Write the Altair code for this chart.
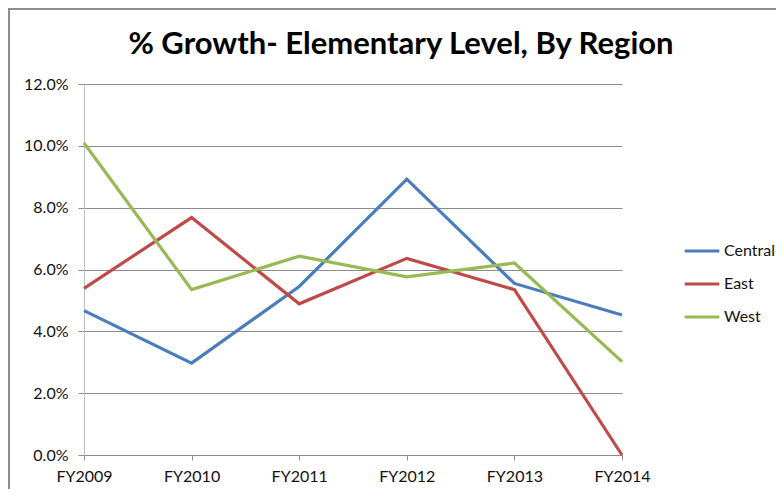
import altair as alt
import pandas as pd

years = ["FY2009", "FY2010", "FY2011", "FY2012", "FY2013", "FY2014"]
regions = ["Central", "East", "West"]
central = [0.0467, 0.0297, 0.0545, 0.0892, 0.0555, 0.0453]
east = [0.0539, 0.0768, 0.0489, 0.0636, 0.0535, 0.0000]
west = [0.1009, 0.0535, 0.0643, 0.0576, 0.0621, 0.0302]
colors = ["#4A7EBB", "#BE4B48", "#98B954"]
title_text = "% Growth- Elementary Level, By Region"

rows = []
for name, vals in zip(regions, [central, east, west]):
    for y, v in zip(years, vals):
        rows.append({"Year": y, "Region": name, "Growth": v})
df = pd.DataFrame(rows)

FONT = "Lato"

lines = alt.Chart(df).mark_line(strokeWidth=3.2, clip=False).encode(
    x=alt.X("Year:N", sort=years,
            scale=alt.Scale(type="point", padding=0),
            axis=alt.Axis(title=None, labelAngle=0, labelFontSize=16, labelFont=FONT,
                          labelColor="#111111", labelPadding=8,
                          domainColor="#8c8c8c", tickColor="#8c8c8c", tickSize=5,
                          grid=False)),
    y=alt.Y("Growth:Q",
            scale=alt.Scale(domain=[0, 0.12], nice=False),
            axis=alt.Axis(title=None, format=".1%", values=[0, 0.02, 0.04, 0.06, 0.08, 0.10, 0.12],
                          labelFontSize=16, labelFont=FONT, labelColor="#111111",
                          labelPadding=10, domainColor="#bfbfbf", tickColor="#8c8c8c",
                          tickSize=6, grid=True, gridColor="#8c8c8c")),
    color=alt.Color("Region:N", sort=regions,
                    scale=alt.Scale(domain=regions, range=colors),
                    legend=alt.Legend(title=None, orient="none", legendX=599, legendY=148,
                                      symbolType="stroke", symbolStrokeWidth=3,
                                      symbolSize=1200, labelFontSize=16, labelFont=FONT,
                                      labelColor="#111111", labelOffset=3, rowPadding=6)),
)

meta = pd.DataFrame({"t": [title_text]})

border = alt.Chart(meta).mark_rect(
    filled=False, stroke="#8c8c8c", strokeWidth=2, clip=False
).encode(
    x=alt.value(-75), x2=alt.value(720), y=alt.value(-75), y2=alt.value(500)
)

title = alt.Chart(meta).mark_text(
    font=FONT, fontSize=31, fontWeight="bold", color="#000000",
    align="center", baseline="middle", clip=False
).encode(
    text="t:N", x=alt.value(317), y=alt.value(-39)
)

chart = alt.layer(border, title, lines).properties(
    width=538, height=371,
    autosize=alt.AutoSizeParams(type="none"),
    padding={"left": 76, "top": 76, "right": 154, "bottom": 34},
).configure_view(stroke="transparent")

chart.save("out.html", embed_options={"renderer": "svg", "actions": False})
